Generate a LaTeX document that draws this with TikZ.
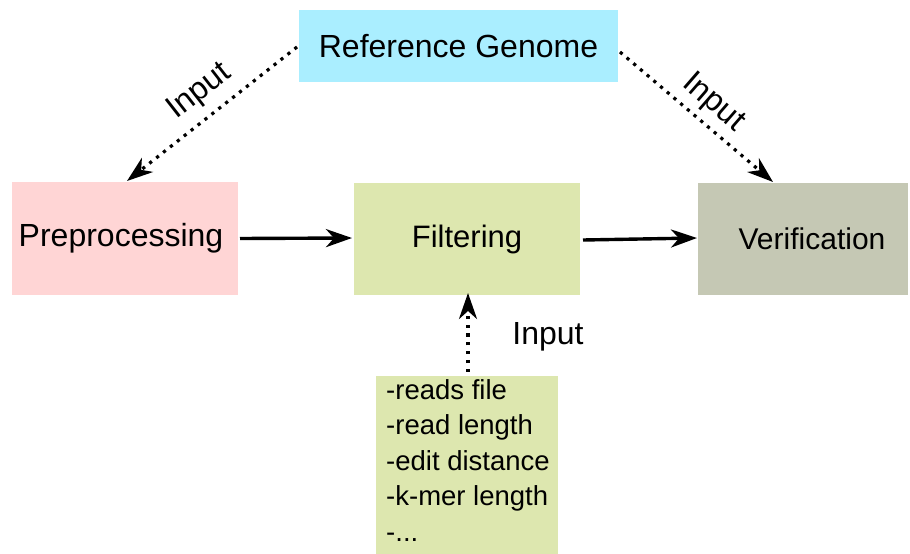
\documentclass[tikz,border=0pt]{standalone}
\usepackage{fontspec}
\setmainfont{Liberation Sans}
\usetikzlibrary{arrows.meta,calc}
\definecolor{refcol}{HTML}{AAEEFF}
\definecolor{precol}{HTML}{FFD5D5}
\definecolor{filtcol}{HTML}{DDE7AF}
\definecolor{vercol}{HTML}{C5C8B4}
\tikzset{
  stagebox/.style={inner sep=0pt, outer sep=0pt, font=\fontsize{32}{38}\selectfont},
  flow/.style={line width=3.4pt, -{Stealth[length=26pt,width=18pt,inset=8pt]}},
  feed/.style={line width=3.2pt, dash pattern=on 3.2pt off 5.6pt, -{Stealth[length=26pt,width=18pt,inset=8pt]}},
  tag/.style={font=\fontsize{32}{38}\selectfont, inner sep=0pt},
}
\begin{document}
\begin{tikzpicture}[x=1pt,y=-1pt]
\useasboundingbox (0,0) rectangle (910,554);
% stage boxes
\node[stagebox, fill=refcol, minimum width=319pt, minimum height=72pt] (rg) at (458.5,46) {Reference Genome};
\node[stagebox, fill=precol, minimum width=226pt, minimum height=113pt] (pre) at (125,238.5) {\hspace*{-8pt}Preprocessing};
\node[stagebox, fill=filtcol, minimum width=226pt, minimum height=112pt, font=\fontsize{31}{37}\selectfont] (filt) at (467,239) {Filtering};
\node[stagebox, fill=vercol, minimum width=210pt, minimum height=112pt, font=\fontsize{30}{36}\selectfont] (ver) at (803,239) {\hspace*{18pt}Verification};
% parameter list
\node[fill=filtcol, minimum width=182pt, minimum height=178pt, inner sep=0pt] (par) at (467,465) {};
\node[anchor=north west, inner sep=0pt, align=left, font=\fontsize{27.5}{35.5}\selectfont] (partext) at (386,379)
  {-reads file\\-read length\\-edit distance\\-k-mer length\\-...};
% connectors
\coordinate (vertop) at ($(ver.north west)+(75,0)$);
\draw[feed] ($(rg.west)+(-2,1)$) -- ($(pre.north)+(2,-1)$);
\draw[feed] ($(rg.east)+(2,6)$) -- ($(vertop)+(0,-1)$);
\draw[flow] ($(pre.east)+(2,0)$) -- ($(filt.west)+(-2,-1)$);
\draw[flow] ($(filt.east)+(3,1)$) -- ($(ver.west)+(-1,-1)$);
\draw[feed] ($(par.north)+(1,-4)$) -- ($(filt.south)+(1,-2)$);
% labels
\node[tag, rotate=38] (inl) at (200,92) {Input};
\node[tag, rotate=-41] (inr) at (713,103) {Input};
\node[tag] (inb) at (548,337) {Input};
\end{tikzpicture}
\end{document}
